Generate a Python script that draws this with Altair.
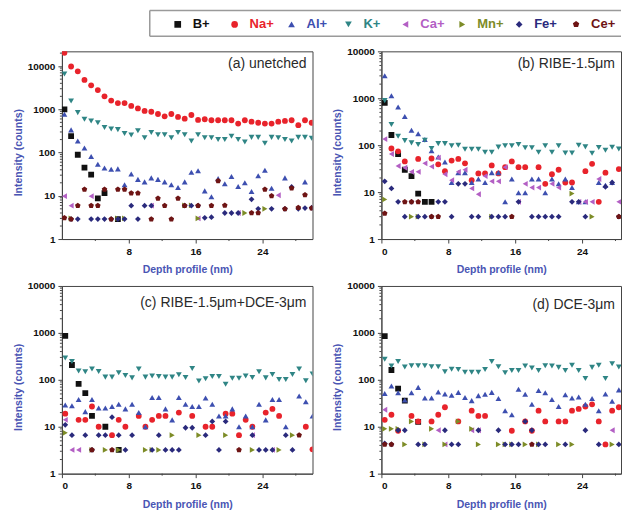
import altair as alt
import pandas as pd

FONT = "Liberation Sans"
AX = "#444444"
TITLE_BLUE = "#4a55b4"

IONS = ["B+", "Na+", "Al+", "K+", "Ca+", "Mn+", "Fe+", "Ce+"]
COLORS = ["#111111", "#e8232b", "#3d4fb0", "#2f8585", "#b35fc4", "#7d8c27", "#2a2a7c", "#6e1414"]
PENTAGON = "M0,-1L0.951,-0.309L0.588,0.809L-0.588,0.809L-0.951,-0.309Z"
SHAPES = ["square", "circle", "triangle-up", "triangle-down", "triangle-left",
          "triangle-right", "diamond", PENTAGON]

Y_TICKS = [1, 10, 100, 1000, 10000]
MINOR_Y = [2, 3, 4, 5, 6, 7, 8, 9, 20, 30, 40, 50, 60, 70, 80, 90,
           200, 300, 400, 500, 600, 700, 800, 900,
           2000, 3000, 4000, 5000, 6000, 7000, 8000, 9000, 20000]
MINOR_X = [4, 12, 20, 28]

DEPTH_A = [0.3, 1.1, 1.9, 2.7, 3.5, 4.3, 5.1, 5.9, 6.7, 7.5, 8.3, 9.1, 9.9, 10.7, 11.5, 12.3,
           13.1, 13.9, 14.7, 15.5, 16.3, 17.1, 17.9, 18.7, 19.5, 20.3, 21.1, 21.9, 22.7, 23.5,
           24.3, 25.1, 25.9, 26.7, 27.5, 28.3, 29.1, 29.9]
DEPTH = [0.4, 1.2, 2.0, 2.8, 3.6, 4.4, 5.2, 6.0, 6.8, 7.6, 8.4, 9.2, 10.0, 10.8, 11.6, 12.4,
         13.2, 14.0, 14.8, 15.6, 16.4, 17.2, 18.0, 18.8, 19.6, 20.4, 21.2, 22.0, 22.8, 23.6,
         24.4, 25.2, 26.0, 26.8, 27.6, 28.4, 29.2, 30.0]

_ = None

# ---------------- (a) unetched ----------------
B_A = [1000, 240, 89, 45, 31, 8.7, 11.5, _, 2.9]
NA_A = [20400, 9800, 7600, 4800, 3600, 2800, 2000, 1600, 1400, 1400,
        1200, 1050, 920, 880, 780, 690, 780, 670, 610, 740,
        570, 590, 560, 560, 560, 560, 470, 560, 520, 490,
        470, 470, 520, 540, 560, 430, 560, 490]
AL_A = [770, 335, 185, 128, 81, 54, 44, 41, 42, 18,
        32, 24, 21, 26, 24, 21, 18, 15.5, 21, 35,
        38, 13, 9.5, 25, 19, 28, 16.5, 20, 12.6, 29,
        39, 15, _, 26, _, _, 21, _]
K_A = [6600, 1560, 840, 590, 540, 490, 380, 350, 340, 275,
       255, 320, 220, 290, 260, 260, 220, 290, 260, 185,
       260, 220, 220, 200, 200, 240, 200, 175, 225, 225,
       165, 225, 220, 200, 185, 225, 225, 215]
CA_A = [9.8, 5.9, _, _, 9.8, _, _, _, _, _,
        _, _, _, 5.9, _, _, _, _, _, _,
        3.0, _, _, _, _, _, 4.0, _, _, _,
        _, _, 10.3, _, _, _, _, _]
MN_A = [_, 3.0, _, _, _, _, _, _, 3.0, 3.0,
        _, _, _, _, _, _, _, _, 6.0, 6.0,
        3.0, _, _, _, _, _, _, 4.0, _, _,
        5.0, _, _, _, _, _, _, _]
FE_A = [_, 2.9, 2.9, _, 2.9, 2.9, 2.9, 2.9, 2.9, 2.9,
        5.9, 2.9, 5.9, 5.9, _, _, _, _, 5.9, 5.9,
        5.9, 3.1, 3.2, _, 4.0, 4.0, 4.0, _, 8.3, 5.0,
        _, 5.0, _, 5.0, 16, 5.0, 5.2, 5.3]
CE_A = [3.1, 2.9, 5.9, 14, 5.9, 5.9, 14, 2.9, 14, 14,
        11.5, 11.5, _, 2.9, 8.7, 5.9, 2.9, 8.7, 5.9, _,
        5.9, _, 5.9, 22, 6.0, _, _, _, 4.0, 4.0,
        14, 10, _, 5.0, 15, 5.3, 10.5, 5.2]

# ---------------- (b) RIBE-1.5um ----------------
B_B = [800, 165, 65, 30, 22, 9.3, 6.2, 6.2]
NA_B = [_, 85, 74, 45, _, 51, _, 52, 39, 28,
        47, 51, 41, 18, 25, 25, 37, 25, 34, 45,
        34, 34, _, 34, 15, 24, 30, 16, 16, _,
        28, 40, 6.2, 26, _, 31, 19, _]
AL_B = [3030, 1130, 650, 410, 208, 175, 132, 76, 56, 44,
        16, 26, 26, 16, 19, 16, 26, 26, 6.2, 19,
        9.7, 9.7, 19, 19, 9.7, 19, 15, 19, 12.6, 6.2,
        6.2, _, 16, 14, 16, _, 13.5, _]
K_B = [890, 275, 155, 125, 112, 103, 127, 85, 108, 108,
       97, 100, 82, 82, 82, 71, 71, 91, 97, 97,
       103, 88, 88, 71, 97, 71, 97, 68, 68, 100,
       92, 67, 89, 78, 90, 83, 82, _]
CA_B = [135, 65, 36, 33, 27, 27, 41, 35, 54, 24,
        18, 27, 30, 12, 9, 22, 17, 17, 34, _,
        6.2, 15, 12.5, 12.5, _, 15, 12.5, _, _, 6.2,
        6.2, 6.2, 19, _, _, 6.2, _, _]
MN_B = [7.0, _, _, _, 3.0, 3.0, _, _, _, _,
        _, _, _, _, _, _, 3.0, _, _, _,
        _, _, _, _, _, _, _, _, 9.3, _,
        _, 3.0, _, _, _, _, _, _]
FE_B = [17, 12, 6.2, 3.0, 6.2, 3.0, 3.0, 3.0, 6.2, 6.2,
        3.0, 15, 15, 3.0, 3.0, _, 3.0, 3.0, 3.0, _,
        6.2, _, 3.0, 3.0, 3.0, 3.0, 3.0, _, 6.2, 6.2,
        3.0, _, _, 13, 16, 3.0, _, _]
CE_B = [3.5, _, _, 6.2, 6.2, 6.2, _, 3.0, 3.0, _,
        _, _, _, _, _, _, _, _, _, 3.0,
        _, _, _, _, _, _, _, _, _, _,
        _, _, _, _, _, 3.0, 3.0, _]

# ---------------- (c) RIBE-1.5um+DCE-3um ----------------
B_C = [860, 207, 82, 52, 17, _, 10, _, 3.2]
NA_C = [19, _, 14, 14, 27, 10, _, 6.6, 14, 10,
        _, 17, 10, 14, 17, 17, _, 20, _, 17,
        _, 10, 10, _, 19, 19, 6.6, 14, 10, _,
        20, 24, 17, _, _, _, 10, 3.3]
AL_C = [29, 28, 38, 21, 38, 25, 25, 27, 30, 24,
        30, 20, 10, 42, 42, 24, 14, 42, 30, 27,
        27, 41, 30, 17, 17, 24, 10, 17, 10, 30,
        14, 38, 38, 10, _, 45, 34, 17]
K_C = [293, 245, 154, 148, 170, 150, 114, 114, 141, 123,
       110, 170, 114, 121, 118, 114, 114, 128, 112, 175,
       94, 105, 118, 118, 80, 108, 108, 120, 112, 148,
       110, 130, 102, 102, 130, 170, 95, 133]
CA_C = [14, 3.2, 3.2, _, _, _, _, _, _, _,
        _, _, _, _, _, _, _, _, _, _,
        _, _, _, _, _, _, _, _, 6.6, _,
        _, 3.2, _, _, _, _, _, _]
MN_C = [7.4, _, _, _, 3.2, _, 3.2, _, 3.2, _,
        _, _, 3.2, 3.2, 3.2, _, 6.6, _, _, _,
        6.6, _, _, _, 6.6, _, _, _, 3.2, _,
        _, _, 3.2, _, 6.6, _, _, _]
FE_C = [11, 6.6, _, 6.6, 3.2, 6.6, 6.6, 16, 6.6, 3.2,
        6.6, _, _, 3.2, 6.6, 3.2, 3.2, 3.2, 9.5, 9.5,
        _, 6.6, 13, 3.2, 13, _, _, _, 6.6, 3.2,
        3.2, 3.2, _, 6.6, 3.2, _, _, _]
CE_C = [_, _, _, _, 3.2, _, _, 3.2, _, _,
        _, _, _, _, _, _, _, _, _, _,
        _, _, _, _, _, _, 3.2, _, _, _,
        _, _, _, _, _, 6.6, _, _]

# ---------------- (d) DCE-3um ----------------
B_D = [850, 162, 65, 36, _, 12.7]
NA_D = [14, 18, 8.2, _, 17, 13, _, 13, 18, 26,
        _, 13, _, 22, 17, 17, _, _, _, 8.2,
        _, 13, 8.2, 22, 13, _, 13, 13, 22, 24,
        27, 30, 13, 4.2, 22, 26, 35, _]
AL_D = [51, 74, 53, 37, 53, 69, 41, 41, 55, 50,
        47, 54, 42, 36, 46, 49, 54, 40, 22, 18,
        63, 49, 30, 59, 53, 38, 27, 48, 41, 43,
        30, 40, 22, 50, 35, 61, 48, _]
K_D = [273, 196, 245, 187, 200, 200, 200, 190, 190, 149,
       167, 165, 145, 145, 145, 165, 245, 190, 142, 158,
       158, 196, 178, 158, 200, 196, 184, 158, 205, 158,
       107, 184, 205, 107, 220, 187, 160, _]
CA_D = [23, _, _, _, _, _, _, _, 8.4, 4.2,
        _, _, _, 8.4, 8.4, _, _, _, _, _,
        _, _, _, _, _, _, _, _, _, _,
        _, _, _, _, 8.4, _, _, _]
MN_D = [9.0, 9.0, 9.0, 4.2, 13, _, 4.2, 9.0, _, 4.2,
        _, 13, _, 9.0, 4.2, _, _, 4.2, 4.2, 4.2,
        _, 4.2, _, 4.2, _, _, 4.2, _, 4.2, _,
        _, _, _, _, 4.2, _, 4.2, _]
FE_D = [4.4, 4.2, 8.4, 8.4, _, 4.2, 4.2, _, _, 8.4,
        4.2, 4.2, _, _, 8.4, _, _, 8.4, 4.2, 4.2,
        4.2, 13, 8.4, 4.2, 4.2, _, _, 4.2, _, _,
        8.4, _, 4.2, _, _, 4.2, _, _]
CE_D = [4.2, 4.2, _, _, _, _, _, _, _, _,
        _, _, _, _, _, _, _, _, _, _,
        _, _, 4.2, _, _, _, _, _, _, _,
        _, _, _, _, _, _, _, _]

PANELS = [
    dict(label="(a) unetched", depth=DEPTH_A, ymax=22000, xmax=30.0, xticks=[8, 16, 24],
         width=251, text_y=13,
         series=[B_A, NA_A, AL_A, K_A, CA_A, MN_A, FE_A, CE_A]),
    dict(label="(b) RIBE-1.5\u03bcm", depth=DEPTH, ymax=10000, xmax=28.66, xticks=[0, 8, 16, 24],
         width=240, text_y=13,
         series=[B_B, NA_B, AL_B, K_B, CA_B, MN_B, FE_B, CE_B]),
    dict(label="(c) RIBE-1.5\u03bcm+DCE-3\u03bcm", depth=DEPTH, ymax=10000, xmax=30.0,
         xticks=[0, 8, 16, 24], width=251, text_y=17,
         series=[B_C, NA_C, AL_C, K_C, CA_C, MN_C, FE_C, CE_C]),
    dict(label="(d) DCE-3\u03bcm", depth=DEPTH, ymax=10000, xmax=28.66, xticks=[0, 8, 16, 24],
         width=240, text_y=19,
         series=[B_D, NA_D, AL_D, K_D, CA_D, MN_D, FE_D, CE_D]),
]

H = 188
color_scale = alt.Scale(domain=IONS, range=COLORS)
shape_scale = alt.Scale(domain=IONS, range=SHAPES)


def build_panel(p):
    rows = []
    for ion, vals in zip(IONS, p["series"]):
        for d, v in zip(p["depth"], vals):
            if v is not None:
                rows.append({"depth": d, "counts": v, "ion": ion})
    df = pd.DataFrame(rows)
    xs = alt.Scale(domain=[0, p["xmax"]], nice=False, zero=False)
    ys = alt.Scale(type="log", domain=[1, p["ymax"]], nice=False)
    x_axis = alt.Axis(values=p["xticks"], title="Depth profile (nm)", format="d")
    y_axis = alt.Axis(values=Y_TICKS, title="Intensity (counts)", format="d", titleY=101)

    pts = alt.Chart(df).mark_point(filled=True, opacity=1, size=34, clip=True).encode(
        x=alt.X("depth:Q", scale=xs, axis=x_axis),
        y=alt.Y("counts:Q", scale=ys, axis=y_axis),
        color=alt.Color("ion:N", scale=color_scale, legend=None),
        shape=alt.Shape("ion:N", scale=shape_scale, legend=None),
    )
    ymin = pd.DataFrame({"v": [m for m in MINOR_Y if m < p["ymax"]]})
    yminor = alt.Chart(ymin).mark_rule(color=AX, strokeWidth=1).encode(
        y=alt.Y("v:Q", scale=ys, axis=y_axis),
        x=alt.value(-2), x2=alt.value(0))
    xmin = pd.DataFrame({"v": [m for m in MINOR_X if m < p["xmax"]]})
    xminor = alt.Chart(xmin).mark_rule(color=AX, strokeWidth=1).encode(
        x=alt.X("v:Q", scale=xs, axis=x_axis),
        y=alt.value(H), y2=alt.value(H + 2))
    lab = alt.Chart(pd.DataFrame({"t": [p["label"]]})).mark_text(
        align="right", baseline="middle", fontSize=14, font=FONT, color="#2a2a2a"
    ).encode(text="t:N", x=alt.value(p["width"] - 6), y=alt.value(p["text_y"]))
    return alt.layer(pts, yminor, xminor, lab).properties(
        width=p["width"], height=H,
        view=alt.ViewBackground(stroke=AX, strokeWidth=1))


panels = [build_panel(p) for p in PANELS]

# ---------------- legend ----------------
leg_df = pd.DataFrame({"ion": IONS})
leg_x = alt.X("ion:N", scale=alt.Scale(domain=IONS, type="point", range=[116, 515], padding=0),
              axis=None)
leg_sym = alt.Chart(leg_df).mark_point(filled=True, opacity=1, size=45).encode(
    x=leg_x, y=alt.value(16),
    color=alt.Color("ion:N", scale=color_scale, legend=None),
    shape=alt.Shape("ion:N", scale=shape_scale, legend=None))
leg_txt = alt.Chart(leg_df).mark_text(
    align="left", baseline="middle", dx=15, fontSize=13, fontWeight="bold", font=FONT
).encode(x=leg_x, y=alt.value(16), text="ion:N",
         color=alt.Color("ion:N", scale=color_scale, legend=None))
one = pd.DataFrame({"k": [0]})
box_top = alt.Chart(one).mark_rule(color="#9a9a9a", strokeWidth=1.5).encode(
    x=alt.value(88), x2=alt.value(560), y=alt.value(2))
box_bot = alt.Chart(one).mark_rule(color="#9a9a9a", strokeWidth=1.5).encode(
    x=alt.value(88), x2=alt.value(560), y=alt.value(28))
box_left = alt.Chart(one).mark_rule(color="#9a9a9a", strokeWidth=1.5).encode(
    x=alt.value(88), y=alt.value(2), y2=alt.value(28))
legend = alt.layer(box_top, box_bot, box_left, leg_sym, leg_txt).properties(
    width=560, height=33, view=alt.ViewBackground(strokeOpacity=0))

row1 = alt.hconcat(panels[0], panels[1], spacing=69, bounds="flush")
row2 = alt.hconcat(panels[2], panels[3], spacing=69, bounds="flush")

chart = alt.vconcat(legend, row1, row2, spacing=4).properties(
    padding={"left": 4, "top": 0, "right": 0, "bottom": 0}
).configure_view(stroke=None).configure_axis(
    grid=False,
    labelFont=FONT, labelFontSize=10, labelFontWeight="bold", labelColor="#111111",
    labelPadding=3,
    titleFont=FONT, titleFontSize=10.5, titleFontWeight="bold", titleColor=TITLE_BLUE,
    tickSize=4, tickColor=AX, domainColor=AX, tickWidth=1, domainWidth=1,
).configure_axisY(titlePadding=4).configure_axisX(titlePadding=9)

chart.save("out.html", embed_options={"renderer": "svg", "actions": False})
